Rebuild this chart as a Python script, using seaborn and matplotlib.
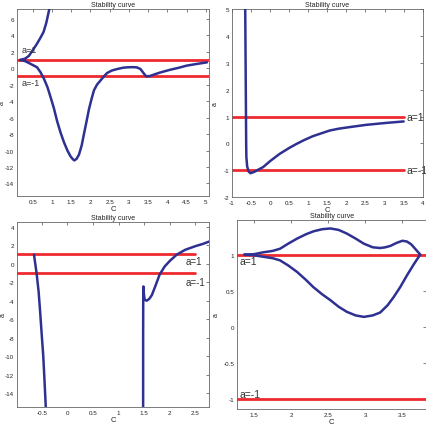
import numpy as np
import pandas as pd
import matplotlib
matplotlib.use("Agg")
import matplotlib.pyplot as plt
import seaborn as sns

# panel 1 (top left)
p1_up_x = [0.17, 0.3, 0.4, 0.5, 0.6, 0.7, 0.78, 0.85, 0.93]
p1_up_y = [1.0, 1.15, 1.5, 2.2, 2.9, 3.7, 4.4, 5.5, 7.2]
p1_lo_x = [0.17, 0.3, 0.45, 0.61, 0.7, 0.79, 0.88, 0.96, 1.05, 1.13, 1.22, 1.31, 1.4, 1.48,
           1.54, 1.58, 1.64, 1.7, 1.77, 1.83, 1.9, 1.96, 2.03, 2.09, 2.17, 2.26, 2.35, 2.43,
           2.55, 2.7, 2.85, 2.96, 3.1, 3.2, 3.25, 3.3, 3.38, 3.45, 3.55, 3.64, 3.8, 4.07,
           4.3, 4.5, 4.75, 5.03]
p1_lo_y = [1.0, 0.85, 0.5, 0.1, -0.5, -1.3, -2.3, -3.5, -4.9, -6.4, -7.8, -9.0, -10.0, -10.7,
           -11.05, -11.2, -11.0, -10.5, -9.4, -8.0, -6.4, -5.0, -3.7, -2.7, -2.0, -1.5, -1.0, -0.6,
           -0.3, -0.1, 0.05, 0.1, 0.12, 0.1, 0.0, -0.1, -0.6, -1.0, -0.95, -0.8, -0.55, -0.2,
           0.05, 0.3, 0.5, 0.7]

# panel 2 (top right)
p2_x = [-0.65, -0.645, -0.64, -0.635, -0.63, -0.625, -0.62, -0.6, -0.56, -0.51, -0.4, -0.3,
        -0.18, 0.0, 0.25, 0.5, 0.69, 0.9, 1.12, 1.35, 1.56, 1.8, 2.04, 2.5, 3.0, 3.5]
p2_y = [5.0, 4.0, 3.0, 2.0, 1.0, 0.0, -0.5, -0.85, -1.05, -1.11, -1.05, -0.97,
        -0.88, -0.66, -0.39, -0.17, -0.02, 0.13, 0.27, 0.38, 0.48, 0.55, 0.6, 0.69, 0.76, 0.82]

# panel 3 (bottom left)
p3_l_x = [-0.65, -0.6, -0.56, -0.53, -0.5, -0.47, -0.445, -0.42]
p3_l_y = [0.98, -1.0, -3.0, -5.2, -7.6, -9.9, -12.6, -15.5]
p3_r_x = [1.48, 1.48, 1.482, 1.485, 1.495, 1.51, 1.55, 1.6, 1.65, 1.72, 1.8, 1.9, 2.0,
          2.14, 2.3, 2.5, 2.65, 2.77]
p3_r_y = [-15.5, -8.0, -4.0, -2.46, -3.3, -3.9, -4.0, -3.8, -3.4, -2.4, -1.2, -0.3, 0.3,
          1.0, 1.5, 1.9, 2.15, 2.4]

# panel 4 (bottom right)
p4_up_x = [1.37, 1.5, 1.62, 1.75, 1.85, 1.96, 2.08, 2.2, 2.3, 2.42, 2.53, 2.64, 2.75, 2.87,
           2.98, 3.1, 3.2, 3.27, 3.34, 3.42, 3.5, 3.56, 3.62, 3.68, 3.74]
p4_up_y = [1.0, 1.005, 1.03, 1.05, 1.08, 1.15, 1.22, 1.28, 1.32, 1.35, 1.36, 1.34, 1.29, 1.22,
           1.15, 1.1, 1.09, 1.1, 1.12, 1.16, 1.19, 1.18, 1.14, 1.07, 1.0]
p4_lo_x = [1.37, 1.5, 1.62, 1.75, 1.85, 1.96, 2.08, 2.2, 2.3, 2.42, 2.53, 2.64, 2.75, 2.87,
           2.98, 3.1, 3.2, 3.3, 3.38, 3.47, 3.56, 3.65, 3.74]
p4_lo_y = [1.0, 0.99, 0.97, 0.95, 0.92, 0.85, 0.76, 0.65, 0.55, 0.45, 0.37, 0.28, 0.21, 0.16,
           0.14, 0.16, 0.2, 0.3, 0.41, 0.55, 0.71, 0.86, 1.0]

levels = [1, -1]
level_names = ["a=1", "a=-1"]

sns.set_style("white")
plt.rcParams["font.family"] = ["Liberation Sans", "DejaVu Sans"]
plt.rcParams["axes.unicode_minus"] = False

blue = "#2e3192"
red = "#ee2a2f"
txt = "#333333"

fig = plt.figure(figsize=(4.27, 4.27), dpi=100)
ax1 = fig.add_axes([0.040, 0.539, 0.450, 0.438])
ax2 = fig.add_axes([0.543, 0.536, 0.447, 0.440])
ax3 = fig.add_axes([0.040, 0.0445, 0.450, 0.433])
ax4 = fig.add_axes([0.555, 0.040, 0.443, 0.443])


def curve(ax, xs, ys):
    df = pd.DataFrame({"x": xs, "y": ys})
    sns.lineplot(data=df, x="x", y="y", ax=ax, sort=False, estimator=None,
                 color=blue, linewidth=1.8, zorder=3)


def red_line(ax, x0, x1, y):
    df = pd.DataFrame({"x": [x0, x1], "y": [y, y]})
    sns.lineplot(data=df, x="x", y="y", ax=ax, color=red, linewidth=2.0, zorder=2)


# panel 1
curve(ax1, p1_up_x, p1_up_y)
curve(ax1, p1_lo_x, p1_lo_y)
for lv in levels:
    red_line(ax1, 0.0, 5.2, lv)
ax1.text(0.22, 2.3, level_names[0], fontsize=6.5, color=txt, va="center")
ax1.text(0.22, -1.7, level_names[1], fontsize=6.5, color=txt, va="center")
ax1.set_xlim(0.09, 5.09)
ax1.set_ylim(-15.5, 7.2)
ax1.set_xticks(np.arange(0.5, 5.01, 0.5))
ax1.set_xticklabels(["0.5", "1", "1.5", "2", "2.5", "3", "3.5", "4", "4.5", "5"])
ax1.set_yticks(np.arange(-14, 7, 2))
ax1.yaxis.set_label_coords(-0.06, 0.5)

# panel 2
curve(ax2, p2_x, p2_y)
for lv in levels:
    red_line(ax2, -1.0, 3.5, lv)
ax2.text(3.57, 1, level_names[0], fontsize=7.5, color=txt, va="center")
ax2.text(3.57, -1, level_names[1], fontsize=7.5, color=txt, va="center")
ax2.set_xlim(-1, 4)
ax2.set_ylim(-2, 5)
ax2.set_xticks(np.arange(-1, 4.01, 0.5))
ax2.set_xticklabels(["-1", "-0.5", "0", "0.5", "1", "1.5", "2", "2.5", "3", "3.5", "4"])
ax2.set_yticks(np.arange(-2, 6, 1))
ax2.yaxis.set_label_coords(-0.07, 0.5)

# panel 3
curve(ax3, p3_l_x, p3_l_y)
curve(ax3, p3_r_x, p3_r_y)
for lv in levels:
    red_line(ax3, -1.0, 2.5, lv)
ax3.text(2.3, 0.3, level_names[0], fontsize=7, color=txt, va="center")
ax3.text(2.3, -2.0, level_names[1], fontsize=7, color=txt, va="center")
ax3.set_xlim(-0.98, 2.77)
ax3.set_ylim(-15.5, 4.5)
ax3.set_xticks(np.arange(-0.5, 2.51, 0.5))
ax3.set_xticklabels(["-0.5", "0", "0.5", "1", "1.5", "2", "2.5"])
ax3.set_yticks(np.arange(-14, 5, 2))
ax3.yaxis.set_label_coords(-0.055, 0.5)

# panel 4
curve(ax4, p4_up_x, p4_up_y)
curve(ax4, p4_lo_x, p4_lo_y)
for lv in levels:
    red_line(ax4, 1.2, 3.9, lv)
ax4.text(1.3, 0.91, level_names[0], fontsize=7.5, color=txt, va="center")
ax4.text(1.3, -0.92, level_names[1], fontsize=7.5, color=txt, va="center")
ax4.set_xlim(1.27, 3.82)
ax4.set_ylim(-1.13, 1.48)
ax4.set_xticks(np.arange(1.5, 3.51, 0.5))
ax4.set_xticklabels(["1.5", "2", "2.5", "3", "3.5"])
ax4.set_yticks([-1, -0.5, 0, 0.5, 1])
ax4.set_yticklabels(["-1", "-0.5", "0", "0.5", "1"])
ax4.yaxis.set_label_coords(-0.09, 0.5)

for ax in [ax1, ax2, ax3, ax4]:
    ax.set_title("Stability curve", fontsize=5, pad=2, color="#222222")
    ax.set_xlabel("C", fontsize=5.5, labelpad=1, color="#222222")
    ax.set_ylabel("a", fontsize=5, color="#222222")
    ax.tick_params(direction="in", length=2, width=0.4, labelsize=4.5, pad=2,
                   colors="#222222", top=True, right=True)
    for s in ax.spines.values():
        s.set_linewidth(0.6)
        s.set_color("#666666")

fig.savefig("out.png", dpi=100)
